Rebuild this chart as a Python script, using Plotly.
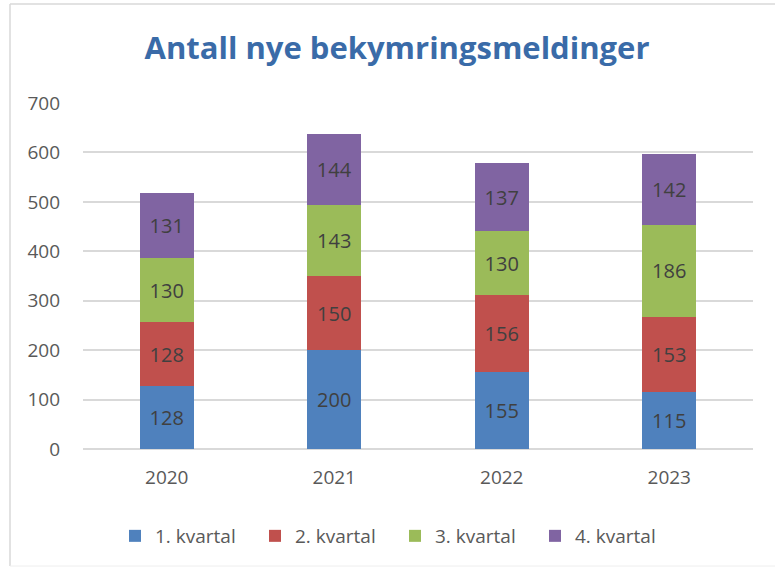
import plotly.graph_objects as go

years = ["2020", "2021", "2022", "2023"]
series_names = ["1. kvartal", "2. kvartal", "3. kvartal", "4. kvartal"]
q1 = [128, 200, 155, 115]
q2 = [128, 150, 156, 153]
q3 = [130, 143, 130, 186]
q4 = [131, 144, 137, 142]
values = [q1, q2, q3, q4]
colors = ["#4F81BD", "#C0504D", "#9BBB59", "#8064A2"]
y_ticks = [0, 100, 200, 300, 400, 500, 600, 700]

FONT = "Open Sans"
W, H = 775, 570
L, R, T, B = 83, 753, 103, 449

def px_x(p):
    return (p - L) / (R - L)

def px_y(p):
    return (B - p) / (B - T)

fig = go.Figure()
for name, vals, col in zip(series_names, values, colors):
    fig.add_trace(go.Bar(
        x=years, y=vals, name=name,
        marker=dict(color=col, line=dict(width=0)),
        text=[str(v) for v in vals],
        textposition="inside",
        insidetextanchor="middle",
        textangle=0,
        textfont=dict(family=FONT, size=20, color="#404040"),
        constraintext="none",
        hoverinfo="skip",
    ))

shapes = [
    dict(type="line", xref="paper", yref="paper", x0=px_x(10), x1=px_x(10),
         y0=px_y(4), y1=px_y(566), line=dict(color="#D9D9D9", width=1.5)),
    dict(type="line", xref="paper", yref="paper", x0=px_x(10), x1=px_x(775),
         y0=px_y(4), y1=px_y(4), line=dict(color="#D9D9D9", width=1.5)),
    dict(type="line", xref="paper", yref="paper", x0=px_x(10), x1=px_x(775),
         y0=px_y(566), y1=px_y(566), line=dict(color="#EEEEEE", width=1)),
]

fig.update_layout(
    width=W, height=H,
    margin=dict(l=L, r=W - R, t=T, b=H - B, pad=0, autoexpand=False),
    barmode="stack",
    bargap=0.68,
    paper_bgcolor="white",
    plot_bgcolor="white",
    title=dict(text="<b>Antall nye bekymringsmeldinger</b>",
               font=dict(family=FONT, size=31, color="#3A6BA8"),
               x=px_x(397), xanchor="center", xref="paper",
               y=1 - 48 / H, yanchor="middle", yref="container"),
    xaxis=dict(
        type="category",
        showgrid=False, showline=False, zeroline=False,
        tickfont=dict(family=FONT, size=19, color="#595959"),
        ticks="", ticklabelstandoff=15,
    ),
    yaxis=dict(
        range=[0, 700],
        tickvals=y_ticks,
        showgrid=True, gridcolor="#D9D9D9", gridwidth=2,
        zeroline=True, zerolinecolor="#D9D9D9", zerolinewidth=2,
        showline=False,
        tickfont=dict(family=FONT, size=19, color="#595959"),
        ticks="", ticklabelstandoff=22,
    ),
    legend=dict(
        orientation="h",
        x=px_x(395), xanchor="center",
        y=px_y(536), yanchor="middle",
        font=dict(family=FONT, size=19, color="#595959"),
        entrywidth=95, entrywidthmode="pixels",
        itemsizing="constant",
        traceorder="normal",
    ),
    shapes=shapes,
    showlegend=True,
)

fig.write_html("out.html",
               config={"displayModeBar": False},
               post_script="document.body.style.margin='0px';document.body.style.overflow='hidden';")
